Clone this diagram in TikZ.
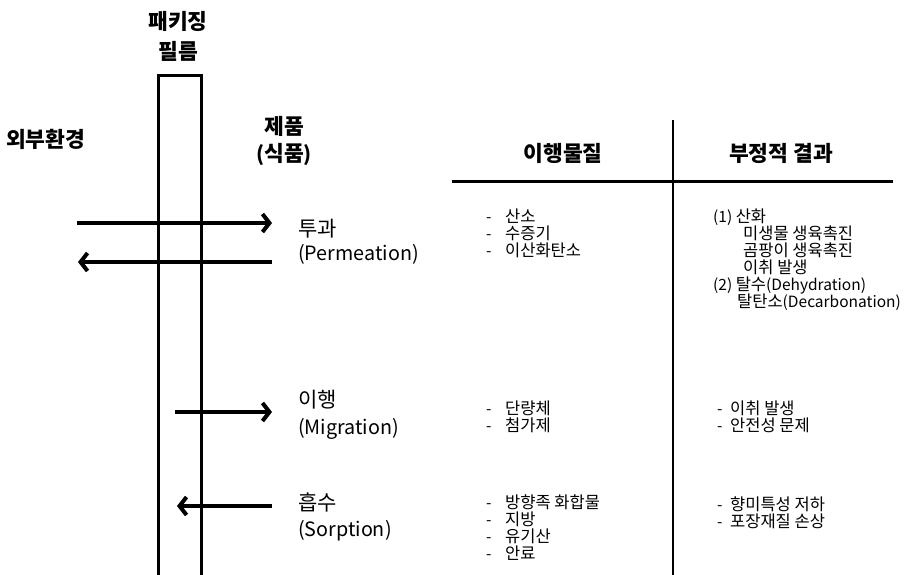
\documentclass[tikz,border=0pt]{standalone}
\usepackage{fontspec}
\setmainfont{Noto Sans CJK KR}
\newfontfamily\lt{Noto Sans CJK KR}[Scale=0.94]
\usetikzlibrary{arrows.meta}
\tikzset{
  film/.style={line width=3.5pt},
  flow/.style={line width=4pt, -{Straight Barb[length=7pt,width=18pt]}},
  tabrule/.style={line width=2.2pt},
  body/.style={anchor=base west, inner sep=0pt, text height=11.5pt, text depth=3pt,
    font=\fontsize{16.5}{18}\selectfont},
  lbl/.style={anchor=base west, inner sep=0pt, text height=15pt, text depth=4pt,
    font=\fontsize{21}{24}\selectfont},
  heading/.style={anchor=base, inner sep=0pt, text height=16pt, text depth=4pt,
    font=\bfseries\fontsize{21.5}{24}\selectfont},
}
\begin{document}
\begin{tikzpicture}[x=1pt,y=-1pt]
\useasboundingbox (0,0) rectangle (910,575);
% film
\coordinate (fBL) at (158.5,575);
\coordinate (fTL) at (158.5,75.5);
\coordinate (fTR) at (201.5,75.5);
\coordinate (fBR) at (201.5,575);
\draw[film] (fBL) -- (fTL) -- (fTR) -- (fBR);
% titles
\node[heading] (t1) at (178,30) {패키징};
\node[heading] (t2) at (178,60) {필름};
\node[heading, anchor=base west] (ext) at (6,148) {외부환경};
\node[heading] (p1) at (284,135) {제품};
\node[heading] (p2) at (284,161) {{\lt(}식품{\lt)}};
% arrows
\coordinate (a1s) at (77,223);  \coordinate (a1e) at (272,223);
\coordinate (a2s) at (272,262); \coordinate (a2e) at (78,262);
\coordinate (a3s) at (175,412); \coordinate (a3e) at (272,412);
\coordinate (a4s) at (272,506); \coordinate (a4e) at (177,506);
\draw[flow] (a1s) -- (a1e);
\draw[flow] (a2s) -- (a2e);
\draw[flow] (a3s) -- (a3e);
\draw[flow] (a4s) -- (a4e);
% labels
\node[lbl] (l1a) at (298,236) {투과};
\node[lbl] (l1b) at (298,260) {\lt (Permeation)};
\node[lbl] (l2a) at (298,407) {이행};
\node[lbl] (l2b) at (298,434) {\lt (Migration)};
\node[lbl] (l3a) at (298,510) {흡수};
\node[lbl] (l3b) at (298,536) {\lt (Sorption)};
% table
\coordinate (vT) at (673,120); \coordinate (vB) at (673,575);
\coordinate (hL) at (452,181.5); \coordinate (hR) at (893,181.5);
\draw[tabrule] (vT) -- (vB);
\draw[tabrule] (hL) -- (hR);
\node[heading] (h1) at (563,161) {이행물질};
\node[heading] (h2) at (781,161) {부정적 결과};
% column 1
\foreach \y/\t [count=\i] in {222/산소, 239/수증기, 256/이산화탄소,
   414/단량체, 431/첨가제,
   508/방향족 화합물, 525/지방, 542/유기산, 559/안료}{
  \node[body] (d\i) at (486,\y) {\lt -};
  \node[body] (c\i) at (505,\y) {\t};
}
% column 2
\node[body] (r1) at (713,222) {{\lt (1) }산화};
\node[body] (r2) at (743,239) {미생물 생육촉진};
\node[body] (r3) at (743,256) {곰팡이 생육촉진};
\node[body] (r4) at (743,273) {이취 발생};
\node[body] (r5) at (713,290) {{\lt (2) }탈수{\lt (Dehydration)}};
\node[body] (r6) at (737,307) {탈탄소{\lt (Decarbonation)}};
\foreach \y/\t [count=\i] in {414/이취 발생, 431/안전성 문제, 510/향미특성 저하, 527/포장재질 손상}{
  \node[body] (e\i) at (717,\y) {\lt -};
  \node[body] (f\i) at (730,\y) {\t};
}
\end{tikzpicture}
\end{document}
